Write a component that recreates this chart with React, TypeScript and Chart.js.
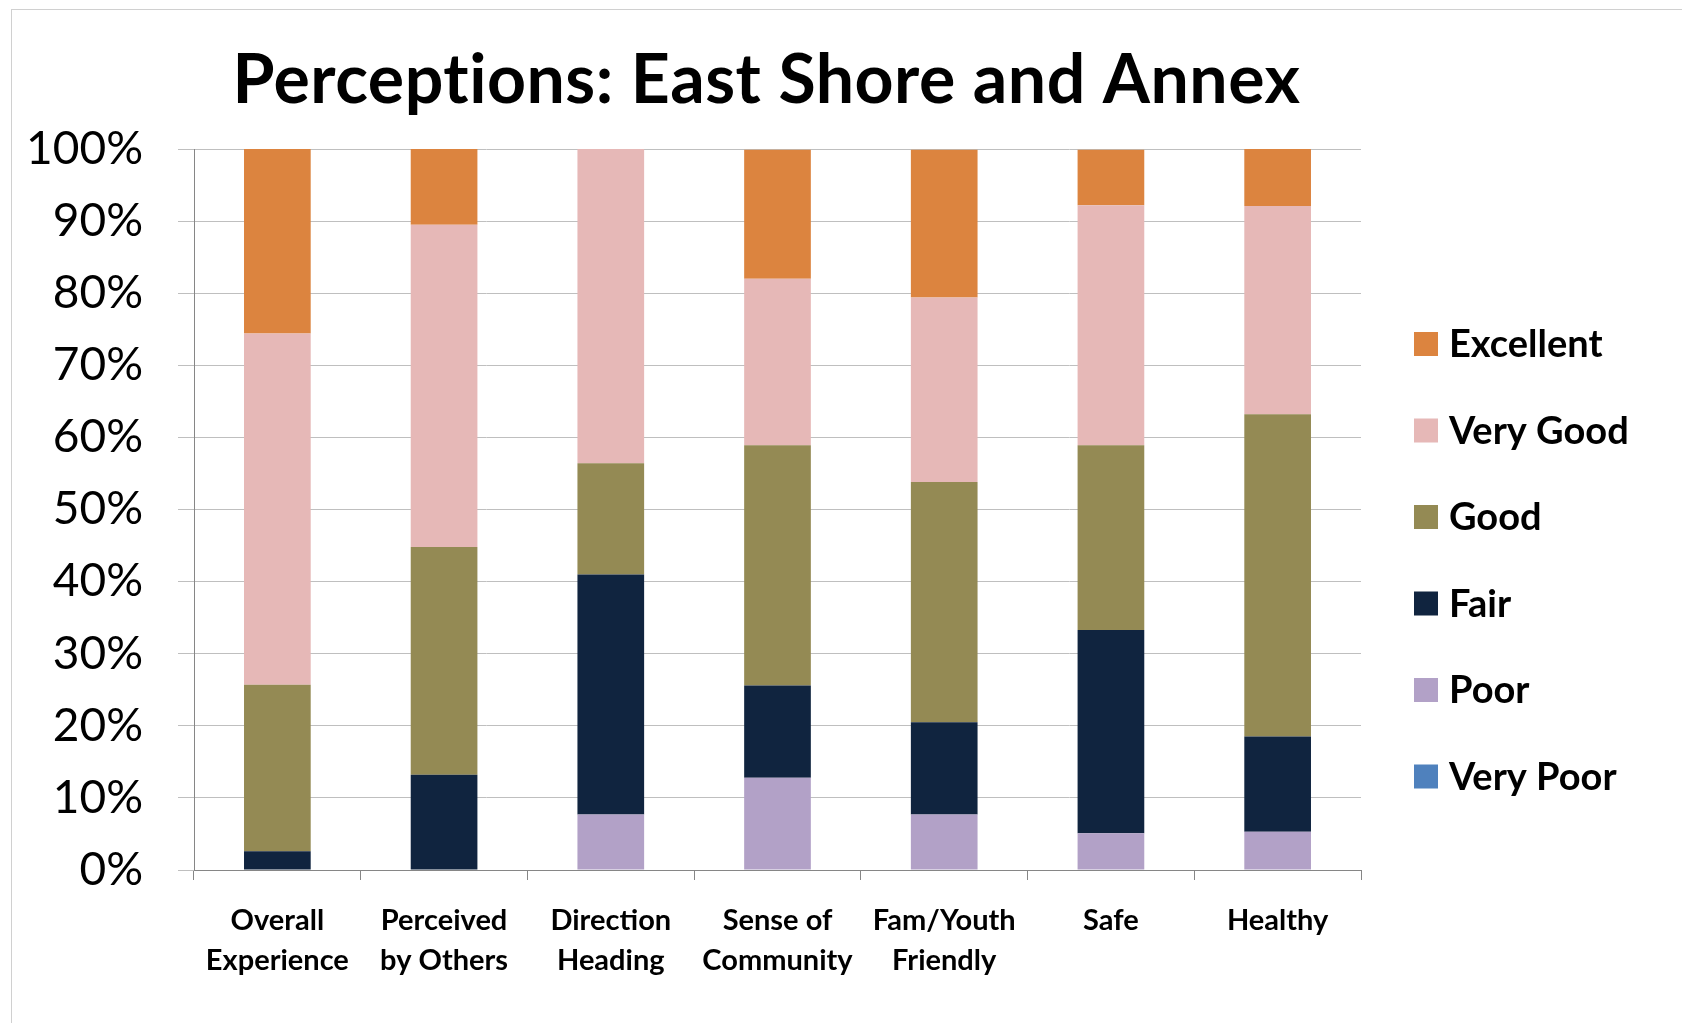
import React, { useEffect, useRef } from 'react';
import { Chart, registerables } from 'chart.js';

Chart.register(...registerables);

const titleText = 'Perceptions: East Shore and Annex';
const categories: string[][] = [
  ['Overall', 'Experience'],
  ['Perceived', 'by Others'],
  ['Direction', 'Heading'],
  ['Sense of', 'Community'],
  ['Fam/Youth', 'Friendly'],
  ['Safe'],
  ['Healthy'],
];
const seriesNames = ['Very Poor', 'Poor', 'Fair', 'Good', 'Very Good', 'Excellent'];
const veryPoor = [0, 0, 0, 0, 0, 0, 0];
const poor = [0, 0, 7.7, 12.8, 7.7, 5.1, 5.3];
const fair = [2.6, 13.2, 33.3, 12.8, 12.8, 28.2, 13.2];
const good = [23.1, 31.6, 15.4, 33.3, 33.3, 25.6, 44.7];
const veryGood = [48.7, 44.7, 43.6, 23.1, 25.6, 33.3, 28.9];
const excellent = [25.6, 10.5, 0, 17.9, 20.5, 7.7, 7.9];
const seriesColors = ['#4F81BD', '#B2A1C7', '#10243F', '#948A54', '#E6B8B7', '#DC843F'];
const yTicks = [0, 10, 20, 30, 40, 50, 60, 70, 80, 90, 100];

const FONT = 'Lato, "Open Sans", sans-serif';

const titlePlugin = {
  id: 'topTitle',
  afterDraw(chart: any) {
    const { ctx, chartArea } = chart;
    ctx.save();
    (ctx as any).letterSpacing = '0.5px';
    ctx.font = `bold 68px ${FONT}`;
    ctx.fillStyle = '#000';
    ctx.textAlign = 'center';
    ctx.textBaseline = 'middle';
    ctx.fillText(titleText, (chartArea.left + chartArea.right) / 2 - 11, chartArea.top - 68);
    ctx.restore();
  },
};

const legendPlugin = {
  id: 'sideLegend',
  afterDraw(chart: any) {
    const { ctx, chartArea } = chart;
    const ds = [...chart.data.datasets].reverse();
    const x = chartArea.right + 53;
    const y0 = chartArea.top + 195;
    const step = 86.5;
    ctx.save();
    ctx.font = `bold 38px ${FONT}`;
    ctx.textBaseline = 'middle';
    ctx.textAlign = 'left';
    ds.forEach((d: any, i: number) => {
      const cy = y0 + i * step;
      ctx.fillStyle = d.backgroundColor;
      ctx.fillRect(x, cy - 12, 24, 24);
      ctx.fillStyle = '#000';
      ctx.fillText(d.label, x + 35, cy + 1);
    });
    ctx.restore();
  },
};

export default function App() {
  const ref = useRef<HTMLCanvasElement>(null);
  useEffect(() => {
    document.body.style.margin = '0';
    const values = [veryPoor, poor, fair, good, veryGood, excellent];
    const chart = new Chart(ref.current!, {
      type: 'bar',
      data: {
        labels: categories,
        datasets: seriesNames.map((name, i) => ({
          label: name,
          data: values[i],
          backgroundColor: seriesColors[i],
          borderWidth: 0,
          barPercentage: 0.4,
          categoryPercentage: 1,
        })),
      },
      plugins: [titlePlugin, legendPlugin],
      options: {
        responsive: false,
        animation: false,
        devicePixelRatio: 1,
        layout: { padding: { left: 0, right: 321, top: 149, bottom: 0 } },
        plugins: {
          legend: { display: false },
          tooltip: { enabled: false },
          title: { display: false },
        },
        scales: {
          x: {
            stacked: true,
            grid: {
              offset: true,
              drawOnChartArea: false,
              drawTicks: true,
              tickLength: 10,
              color: '#868686',
            },
            border: { color: '#868686', width: 1 },
            ticks: {
              color: '#000',
              font: { family: FONT, size: 29, weight: 'bold', lineHeight: 1.4 },
              padding: 20,
              maxRotation: 0,
              autoSkip: false,
            },
            afterFit(scale: any) {
              scale.height = 153;
            },
          },
          y: {
            stacked: true,
            min: 0,
            max: 100,
            afterBuildTicks(scale: any) {
              scale.ticks = yTicks.map((v) => ({ value: v }));
            },
            grid: {
              color: '#BFBFBF',
              tickLength: 16,
            },
            border: { color: '#868686', width: 1 },
            ticks: {
              color: '#000',
              font: { family: FONT, size: 46 },
              padding: 35,
              callback: (v: any) => `${v}%`,
            },
            afterFit(scale: any) {
              scale.width = 194;
            },
          },
        },
      },
    });
    return () => chart.destroy();
  }, []);
  return (
    <div style={{ position: 'relative', width: 1682, height: 1023, background: '#fff' }}>
      <div
        style={{
          position: 'absolute',
          left: 11,
          top: 9,
          right: 0,
          bottom: 0,
          borderTop: '1px solid #D0D0D0',
          borderLeft: '1px solid #D0D0D0',
        }}
      />
      <canvas ref={ref} width={1682} height={1023} style={{ position: 'absolute', left: 0, top: 0 }} />
    </div>
  );
}
